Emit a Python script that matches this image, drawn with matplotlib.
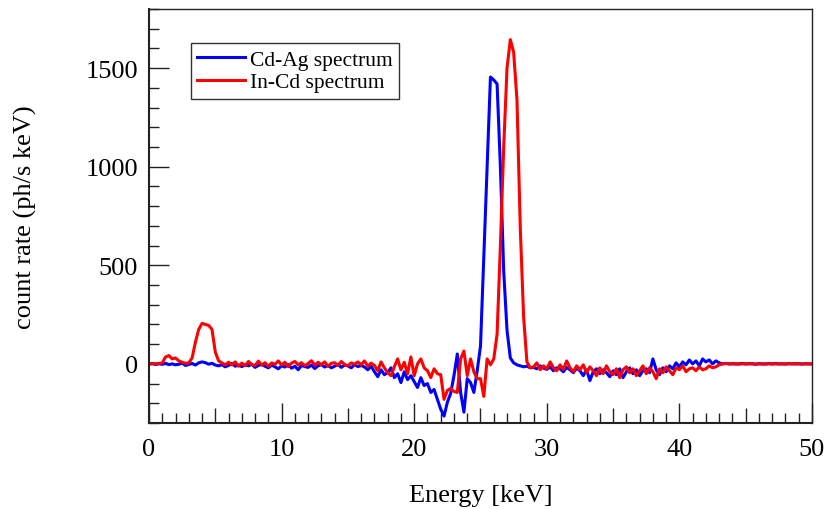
import numpy as np
import matplotlib.pyplot as plt
from matplotlib.ticker import MultipleLocator, FuncFormatter

plt.rcParams['font.family'] = ['Liberation Serif', 'DejaVu Serif']

# energy grid, 0.25 keV bins
energy = np.arange(0, 50.01, 0.25)

# Cd-Ag spectrum (ph/s keV), one row per keV
cd_ag = [
    0, 2, -3, 1,
    -2, 3, -4, 0,
    -5, -2, 4, -8,
    -3, 2, -6, 5,
    10, 6, -2, 3,
    -6, -10, -4, -15,
    -8, 2, -12, -6,
    -14, -4, -10, -2,
    -18, -8, -3, -12,
    -20, -6, -15, -25,
    -10, -16, -4, -22,
    -12, -30, -8, -14,
    -18, -6, -24, -10,
    -4, -16, -8, -20,
    -12, -2, -18, -6,
    -10, -20, -4, -14,
    -8, -16, -30, -12,
    -40, -65, -30, -55,
    -45, -20, -70, -50,
    -95, -40, -80, -60,
    -90, -120, -70, -110,
    -100, -145, -130, -180,
    -230, -265, -195, -150,
    -60, 50, -145, -245,
    -75, -95, -145, -35,
    90, 550, 1000, 1455,
    1440, 1420, 1000, 470,
    170, 30, 5, -5,
    -10, -15, -12, -20,
    -18, -25, -10, -22,
    -28, -15, -35, -20,
    -25, -40, -18, -30,
    -45, -22, -35, -60,
    -30, -85, -40, -25,
    -50, -30, -45, -65,
    -35, -55, -25, -70,
    -40, -20, -50, -30,
    -60, -35, -25, -45,
    25, -30, -55, -20,
    -40, -10, -25, 5,
    -15, 10, -5, 20,
    0, 15, -10, 25,
    10, 20, 0, 15,
    5, 0, 2, -1,
    1, -1, 0, 2,
    -1, 1, 0, -2,
    1, 0, -1, 1,
    0, 2, -1, 0,
    -1, 1, 0, 1,
    0, -1, 1, 0,
    0,
]

# In-Cd spectrum (ph/s keV)
in_cd = [
    0, 1, 0, 2,
    5, 35, 42, 25,
    30, 15, 8, 3,
    5, 30, 110, 175,
    205, 200, 195, 175,
    60, 15, 5, -5,
    8, -6, 10, -12,
    4, -10, 12, -4,
    -8, 14, -6, 6,
    -12, 5, -3, 15,
    -6, 8, -14, 4,
    12, -5, 6, -10,
    2, 16, -6, 8,
    -4, 10, -12, 3,
    6, -8, 12, -3,
    -10, 5, -2, 10,
    -5, 15, -12, 4,
    -8, -35, 10, -20,
    -45, -60, -15, 25,
    -30, 8, -50, 35,
    -60, 0, 25, -20,
    -35, -70, -25, -50,
    -55, -180, -135, -125,
    -140, -145, 25, 65,
    -60, 25, -40, -75,
    -75, -165, 25, -5,
    25, 150, 600, 1100,
    1500, 1645, 1580, 1340,
    690, 240, 10, -20,
    -15, 5, -30, -10,
    -25, 10, -20, -35,
    -5, -28, 15, -20,
    -40, -10, -30, -5,
    -45, -15, -35, -60,
    -20, -50, -10, -40,
    -55, -25, -70, -30,
    -15, -45, -25, -60,
    -35, -10, -50, -20,
    -40, -75, -25, -45,
    -15, -35, -55, -20,
    -30, -10, -40, -25,
    -20, -35, -15, -30,
    -25, -10, -20, -15,
    -5, 0, 2, 1,
    0, 1, -1, 0,
    1, 0, 1, -1,
    0, -1, 0, 1,
    -1, 0, 1, 0,
    0, 1, 0, -1,
    1, 0, -1, 0,
    0,
]

fig = plt.figure(figsize=(8.29, 5.10), dpi=100)
ax = fig.add_axes([149/829, 86/510, 663/829, 414/510])

ax.plot(energy, cd_ag, color='#0000ff', lw=2.2, label='Cd-Ag spectrum')
ax.plot(energy, in_cd, color='#ff0000', lw=2.2, label='In-Cd spectrum')

ax.set_xlim(0, 50)
ax.set_ylim(-300, 1800)

# ROOT-like inward ticks
ax.xaxis.set_major_locator(MultipleLocator(5))
ax.xaxis.set_minor_locator(MultipleLocator(1))
ax.xaxis.set_major_formatter(FuncFormatter(lambda v, p: f'{v:.0f}' if v % 10 == 0 else ''))
ax.yaxis.set_major_locator(MultipleLocator(500))
ax.yaxis.set_minor_locator(MultipleLocator(100))
ax.tick_params(which='both', direction='in', top=False, right=False, width=1.0, color='#222222')
ax.tick_params(which='major', length=14.5, labelsize=19)
ax.tick_params(which='minor', length=7)
ax.tick_params(axis='x', which='major', pad=11)
ax.tick_params(axis='y', which='major', pad=8)
fig.canvas.draw()
for t in ax.xaxis.get_major_ticks():
    if abs(t.get_loc() % 10 - 5) < 1e-6:
        t.tick1line.set_markersize(10.5)

for s in ax.spines.values():
    s.set_color('#222222')
    s.set_linewidth(1.0)
ax.spines['left'].set_linewidth(1.5)
ax.spines['bottom'].set_linewidth(1.5)

ax.set_xlabel('Energy [keV]', fontsize=19, labelpad=17)
ax.set_ylabel('count rate (ph/s keV)', fontsize=19)
ax.yaxis.set_label_coords(-0.169, 0.5)

leg = ax.legend(loc='upper left', bbox_to_anchor=(42/663, 1 - 34/414), fontsize=15.5,
                frameon=True, fancybox=False, borderpad=0.3, handlelength=2.2,
                handletextpad=0.25, labelspacing=0.12, borderaxespad=0)
leg.get_frame().set_edgecolor('black')
leg.get_frame().set_linewidth(1.0)

fig.savefig('out.png', dpi=100)
